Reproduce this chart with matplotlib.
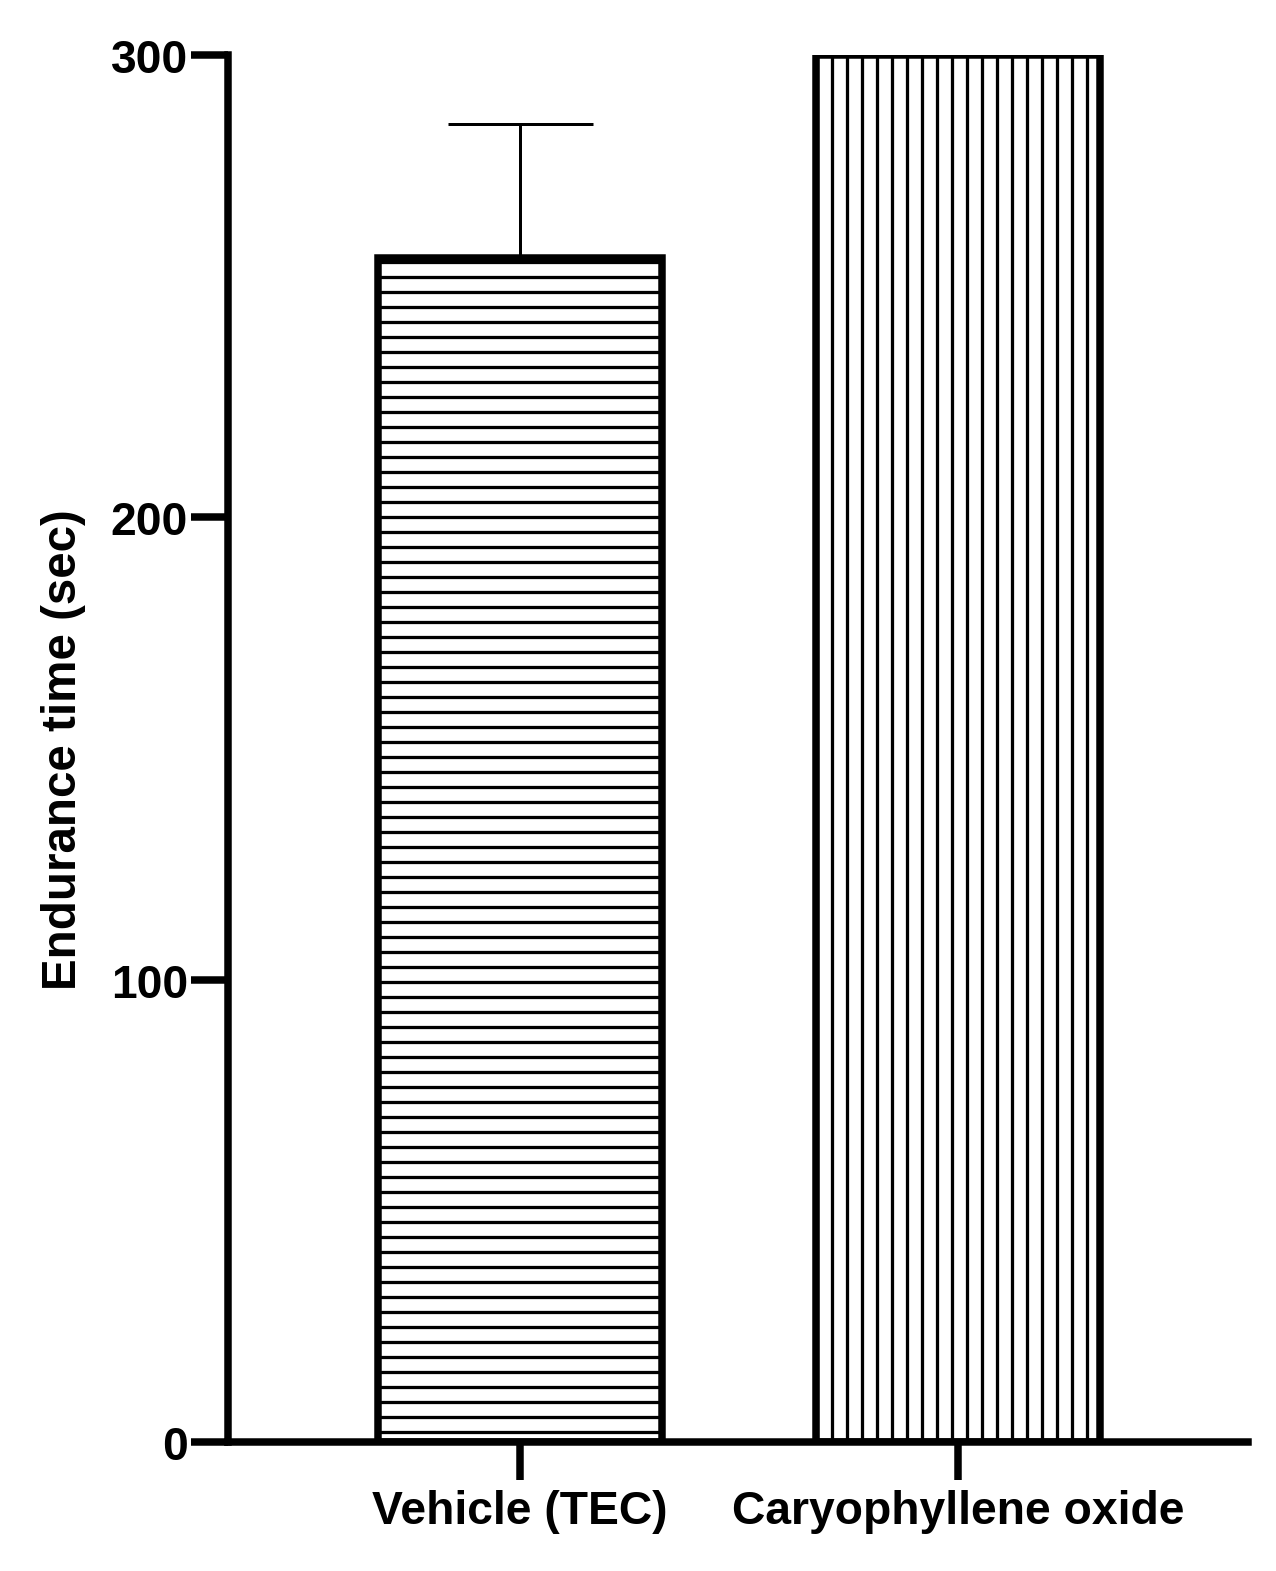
import matplotlib
matplotlib.use("Agg")
import matplotlib.pyplot as plt

# data
groups = ["Vehicle (TEC)", "Caryophyllene oxide"]
means = [256, 300]
sem_upper = [29, 0]
hatches = ["-", "|"]

plt.rcParams["font.family"] = ["Liberation Sans", "DejaVu Sans"]
plt.rcParams["font.weight"] = "bold"
plt.rcParams["hatch.linewidth"] = 2.6
plt.rcParams["hatch.color"] = "black"

DPI = 90
fig = plt.figure(figsize=(1276 / DPI, 1572 / DPI), dpi=DPI)
ax = fig.add_axes([0.1787, 0.0821, 0.978 - 0.1787, 0.9644 - 0.0821])

x = list(range(len(groups)))
for i in x:
    ax.bar(x[i], means[i], width=0.65, color="white", edgecolor="black",
           linewidth=6.0, hatch=hatches[i], zorder=2)

# only the upper error bar on the vehicle group
ax.errorbar(x[0], means[0], yerr=[[0], [sem_upper[0]]], fmt="none",
            ecolor="black", elinewidth=2.4, capsize=58, capthick=2.4, zorder=1)

ax.set_xlim(-0.667, 1.662)
ax.set_ylim(0, 300)
ax.set_yticks([0, 100, 200, 300])
ax.set_xticks(x)
ax.set_xticklabels(groups)

for side in ["top", "right"]:
    ax.spines[side].set_visible(False)
for side in ["left", "bottom"]:
    ax.spines[side].set_linewidth(6.0)
    ax.spines[side].set_zorder(3)

ax.tick_params(axis="both", width=6.0, length=30, labelsize=37, pad=2)
ax.tick_params(axis="x", pad=8)
ax.set_ylabel("Endurance time (sec)", fontsize=38, fontweight="bold", labelpad=20)

fig.savefig("out.png", dpi=DPI)
